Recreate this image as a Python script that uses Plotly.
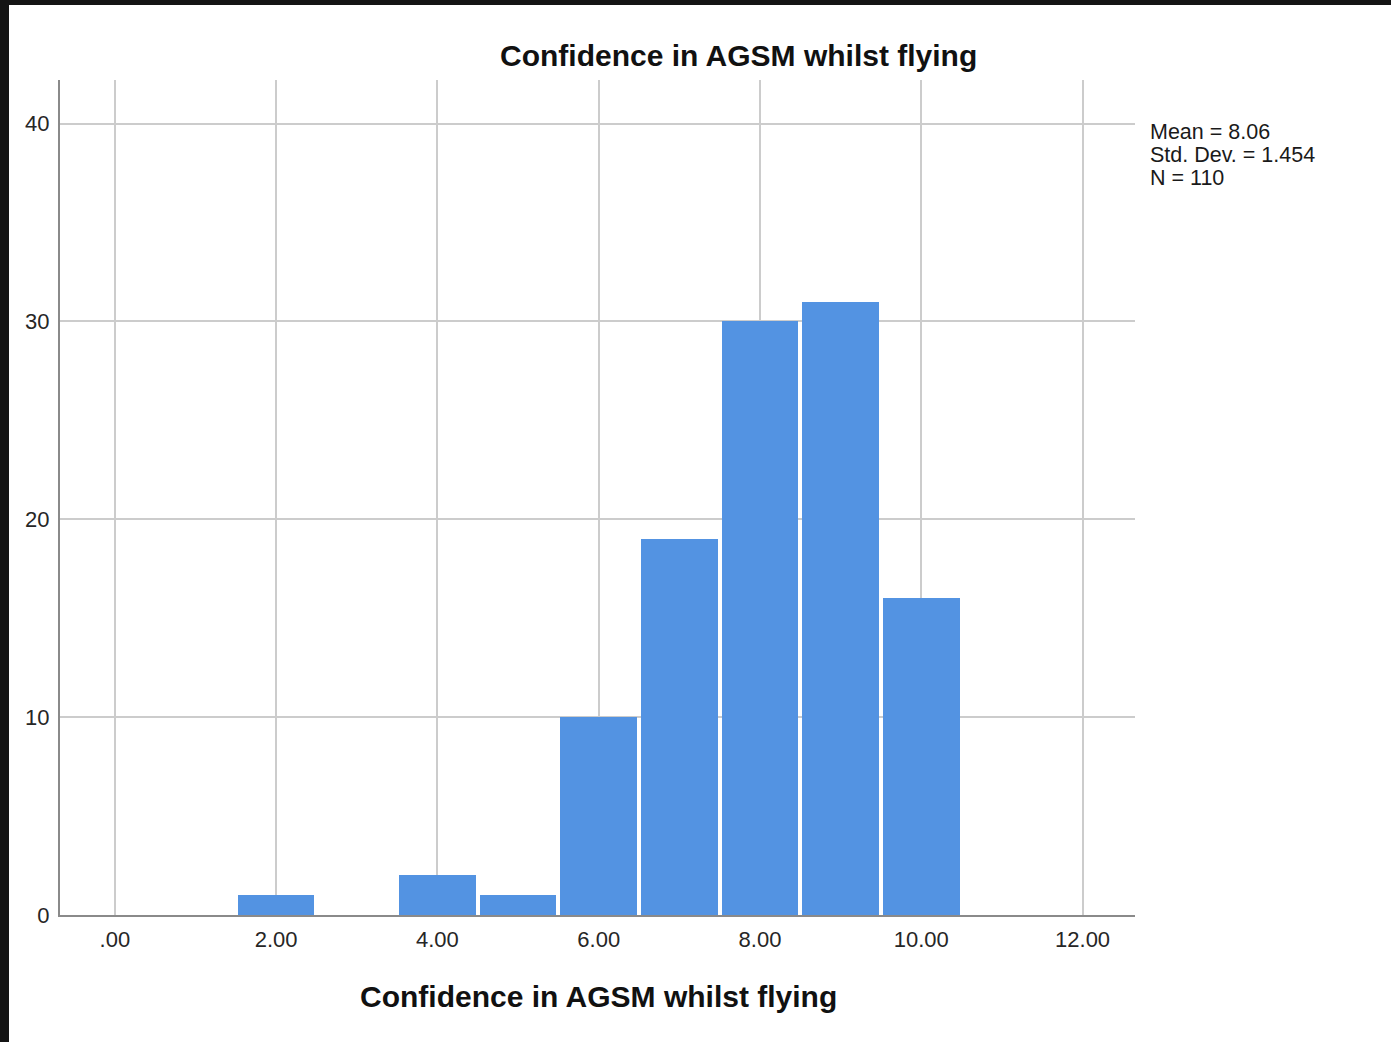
import plotly.graph_objects as go

bin_centers = [2, 3, 4, 5, 6, 7, 8, 9, 10]
counts = [1, 0, 2, 1, 10, 19, 30, 31, 16]
x_tick_vals = [0, 2, 4, 6, 8, 10, 12]
x_tick_text = [".00", "2.00", "4.00", "6.00", "8.00", "10.00", "12.00"]
y_tick_vals = [0, 10, 20, 30, 40]
title_text = "Confidence in AGSM whilst flying"
stats_lines = ["Mean = 8.06", "Std. Dev. = 1.454", "N = 110"]

W, H = 1391, 1042
L, R, T, B = 60, 1135, 80, 915

def px_x(px):
    return (px - L) / (R - L)

def px_y(py):
    return (B - py) / (B - T)

fig = go.Figure()
fig.add_trace(go.Bar(
    x=bin_centers, y=counts, width=0.95,
    marker=dict(color="#5393E2", line=dict(width=0)),
    showlegend=False,
))

tick_font = dict(family="Liberation Sans, Arial, sans-serif", size=22, color="#262626")

fig.update_layout(
    width=W, height=H,
    margin=dict(l=L, r=W - R, t=T, b=H - B, pad=0),
    paper_bgcolor="#141414",
    plot_bgcolor="white",
    bargap=0,
    xaxis=dict(
        range=[-0.68, 12.65], tickvals=x_tick_vals, ticktext=x_tick_text,
        showgrid=True, gridcolor="#cccccc", gridwidth=2,
        showline=True, linecolor="#8a8a8a", linewidth=2,
        zeroline=False, ticks="", tickfont=tick_font, ticklabelstandoff=4,
    ),
    yaxis=dict(
        range=[0, 42.2], tickvals=y_tick_vals,
        showgrid=True, gridcolor="#cccccc", gridwidth=2,
        showline=True, linecolor="#8a8a8a", linewidth=2,
        zeroline=False, ticks="", tickfont=tick_font, ticklabelstandoff=4,
    ),
    shapes=[dict(
        type="rect", xref="paper", yref="paper", layer="below",
        x0=px_x(9), x1=px_x(W + 20), y0=px_y(H + 20), y1=px_y(5),
        fillcolor="white", line=dict(width=0),
    )],
)

title_font = dict(family="Liberation Sans, Arial, sans-serif", size=30, color="#111111")
fig.add_annotation(text="<b>%s</b>" % title_text, xref="paper", yref="paper",
                   x=px_x(738), y=px_y(55), xanchor="center", yanchor="middle",
                   showarrow=False, font=title_font)
fig.add_annotation(text="<b>%s</b>" % title_text, xref="paper", yref="paper",
                   x=px_x(598), y=px_y(997), xanchor="center", yanchor="middle",
                   showarrow=False, font=title_font)

stat_font = dict(family="Liberation Sans, Arial, sans-serif", size=21.5, color="#1a1a1a")
for i, line in enumerate(stats_lines):
    fig.add_annotation(text=line, xref="paper", yref="paper",
                       x=px_x(1148), y=px_y(132 + 23 * i), xanchor="left", yanchor="middle",
                       showarrow=False, font=stat_font)

fig.write_html("out.html", config={"displayModeBar": False},
               post_script="document.body.style.margin='0';document.body.style.overflow='hidden';")
